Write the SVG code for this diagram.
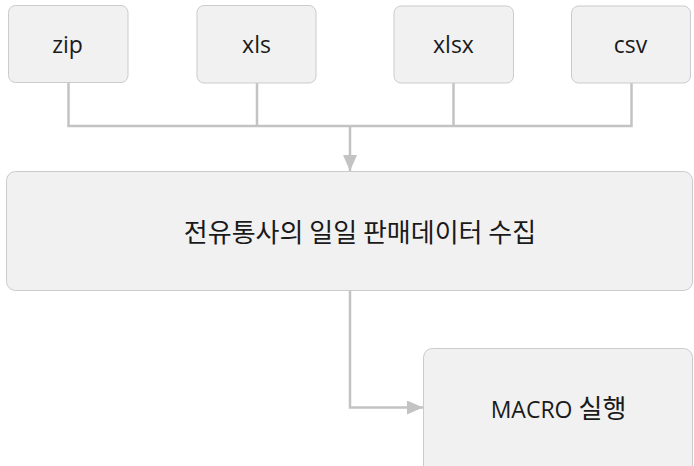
<svg xmlns="http://www.w3.org/2000/svg" width="694" height="466" viewBox="0 0 694 466">
<style>
.box{fill:#f1f1f1;stroke:#cbcbcb;stroke-width:1}
.t{font-family:"Open Sans","Noto Sans CJK KR",sans-serif;font-size:23px;fill:#1a1a1a;text-anchor:middle}
.k{font-family:"Noto Sans CJK KR",sans-serif;font-size:26px;fill:#1a1a1a;text-anchor:middle}
.c{fill:none;stroke:#c3c3c3;stroke-width:2.5}
</style>
<defs>
<marker id="ah" viewBox="0 0 16 14" refX="16" refY="7" markerWidth="16" markerHeight="14" markerUnits="userSpaceOnUse" orient="auto">
<path d="M0,0 L16,7 L0,14 Z" fill="#c3c3c3"/>
</marker>
</defs>
<rect width="694" height="466" fill="#ffffff"/>
<g id="connectors">
<path class="c" d="M68.5,83 V126 H631.5 V83"/>
<path class="c" d="M257,83 V126"/>
<path class="c" d="M453.5,83 V126"/>
<path class="c" d="M350,126 V171" marker-end="url(#ah)"/>
<path class="c" d="M350,291 V407.5 H423" marker-end="url(#ah)"/>
</g>
<g id="zip"><rect class="box" x="8.5" y="5.5" width="119.5" height="77" rx="7"/><text class="t" x="67.5" y="53">zip</text></g>
<g id="xls"><rect class="box" x="197" y="5.5" width="119" height="77.5" rx="7"/><text class="t" x="256.5" y="53">xls</text></g>
<g id="xlsx"><rect class="box" x="394" y="6" width="119.5" height="77" rx="7"/><text class="t" x="453.5" y="53">xlsx</text></g>
<g id="csv"><rect class="box" x="571.5" y="6" width="119" height="77" rx="7"/><text class="t" x="630.5" y="53">csv</text></g>
<g id="collect"><rect class="box" x="6.5" y="171.5" width="686" height="119" rx="9"/><text class="k" x="360" y="241.5">전유통사의 일일 판매데이터 수집</text></g>
<g id="macro"><rect class="box" x="423.5" y="348.5" width="269" height="130" rx="9"/><text class="t" x="558.5" y="417.5">MACRO <tspan style="font-family:'Noto Sans CJK KR',sans-serif;font-size:26px">실행</tspan></text></g>
</svg>
